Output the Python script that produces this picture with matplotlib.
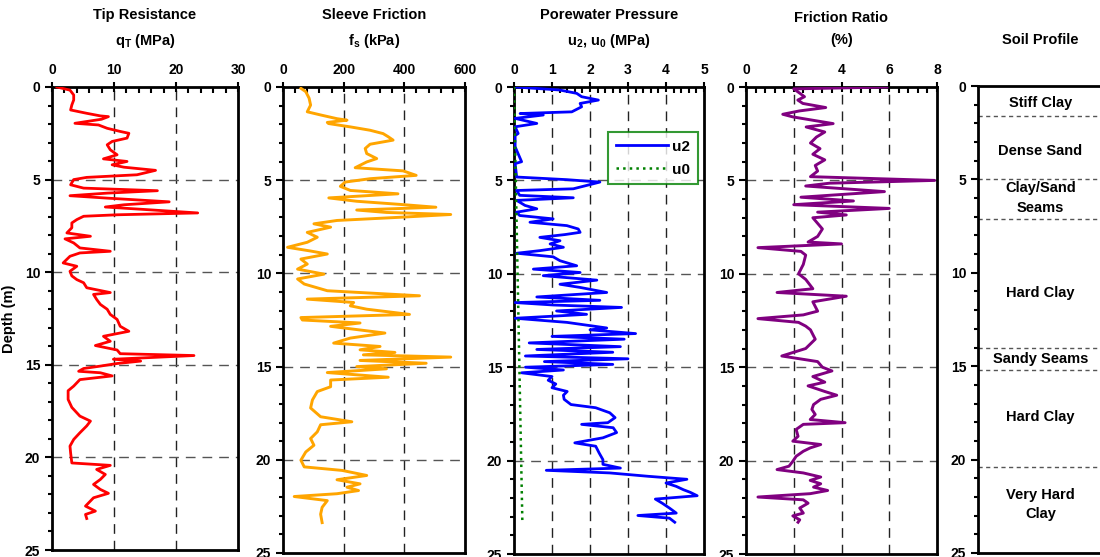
import numpy as np
import matplotlib
matplotlib.use("Agg")
import matplotlib.pyplot as plt
from matplotlib.ticker import MultipleLocator

plt.rcParams['font.family'] = ['Liberation Sans', 'DejaVu Sans']
plt.rcParams['font.weight'] = 'bold'
plt.rcParams['axes.labelweight'] = 'bold'
plt.rcParams['mathtext.fontset'] = 'custom'
plt.rcParams['mathtext.rm'] = 'Liberation Sans:bold'
plt.rcParams['mathtext.it'] = 'Liberation Sans:bold'
plt.rcParams['mathtext.bf'] = 'Liberation Sans:bold'

# (depth m, value) pairs
qt_profile = [(0.0, 0.8), (0.17, 2.9), (0.43, 3.5), (0.7, 3.5), (0.97, 3.2), (1.24, 3.0), (1.42, 5.6),
              (1.56, 7.8), (1.6, 9.1), (1.74, 8.0), (1.96, 3.7), (2.05, 7.5), (2.23, 8.9), (2.4, 11.0),
              (2.5, 12.4), (2.76, 12.1), (2.94, 9.7), (3.12, 8.9), (3.39, 9.4), (3.66, 10.5), (3.88, 8.3),
              (4.02, 12.1), (4.2, 9.7), (4.33, 11.6), (4.5, 16.7), (4.74, 13.7), (4.88, 5.6), (5.0, 3.5),
              (5.28, 3.0), (5.46, 5.1), (5.6, 17.0), (5.73, 8.9), (5.87, 2.9), (6.0, 8.9), (6.2, 18.9),
              (6.36, 11.6), (6.48, 8.6), (6.6, 14.3), (6.8, 23.5), (6.9, 10.5), (6.98, 5.1), (7.16, 4.0),
              (7.34, 3.2), (7.6, 3.2), (7.88, 2.4), (8.06, 6.2), (8.2, 2.1), (8.42, 3.5), (8.69, 4.5),
              (8.87, 9.4), (8.96, 4.5), (9.14, 2.9), (9.5, 1.8), (9.68, 4.0), (9.95, 2.9), (10.2, 3.2),
              (10.4, 4.0), (10.57, 5.1), (10.84, 5.6), (11.1, 9.4), (11.2, 6.7), (11.47, 7.2), (11.74, 7.8),
              (12.0, 8.9), (12.28, 9.4), (12.55, 10.5), (12.92, 11.0), (13.19, 12.4), (13.46, 8.3),
              (13.73, 9.4), (13.96, 7.0), (14.2, 10.5), (14.4, 11.0), (14.5, 22.9), (14.7, 9.9), (14.8, 14.3),
              (14.93, 10.5), (15.07, 7.8), (15.2, 5.1), (15.35, 4.3), (15.43, 7.8), (15.6, 9.7), (15.8, 4.5),
              (16.15, 3.5), (16.4, 2.6), (16.87, 2.6), (17.3, 3.2), (17.77, 4.5), (18.04, 6.2), (18.3, 5.6),
              (18.67, 4.5), (19.03, 3.5), (19.39, 2.9), (19.75, 3.0), (20.3, 3.2), (20.43, 9.4), (20.65, 7.2),
              (20.92, 8.6), (21.19, 7.8), (21.46, 6.7), (21.73, 7.8), (21.94, 9.1), (22.18, 6.7), (22.63, 5.4),
              (22.9, 7.0), (23.08, 5.4), (23.3, 5.6)]

fs_profile = [(0.07, 59), (0.25, 75), (0.6, 86), (0.97, 91), (1.33, 80), (1.5, 124), (1.7, 178), (1.78, 211),
              (1.9, 146), (1.96, 150), (2.14, 222), (2.32, 287), (2.5, 330), (2.67, 347), (2.85, 363), (3.07, 287),
              (3.3, 271), (3.57, 276), (3.84, 309), (4.02, 276), (4.33, 238), (4.5, 396), (4.74, 439), (4.92, 287),
              (5.1, 205), (5.33, 189), (5.55, 222), (5.73, 379), (5.95, 151), (6.13, 243), (6.31, 396), (6.45, 504),
              (6.6, 243), (6.73, 341), (6.84, 553), (6.98, 396), (7.16, 178), (7.34, 102), (7.52, 157), (7.8, 80),
              (8.06, 113), (8.33, 80), (8.6, 15), (8.8, 91), (8.96, 146), (9.23, 59), (9.5, 80), (9.77, 48),
              (10.04, 135), (10.3, 48), (10.57, 70), (10.93, 146), (11.2, 450), (11.38, 80), (11.56, 233),
              (11.74, 222), (11.92, 276), (12.2, 417), (12.37, 59), (12.5, 64), (12.66, 254), (12.84, 157),
              (13.2, 336), (13.47, 222), (13.74, 167), (13.92, 320), (14.1, 254), (14.24, 369), (14.37, 265),
              (14.49, 553), (14.67, 254), (14.82, 472), (15.0, 243), (15.12, 341), (15.32, 146), (15.57, 347),
              (15.72, 157), (16.08, 157), (16.34, 113), (16.79, 97), (17.22, 91), (17.69, 124), (17.96, 227),
              (18.12, 124), (18.5, 113), (18.86, 91), (19.22, 102), (19.58, 75), (20.02, 59), (20.38, 70),
              (20.57, 195), (20.84, 276), (21.07, 178), (21.29, 254), (21.47, 211), (21.65, 249), (21.82, 178),
              (21.97, 37), (22.19, 146), (22.55, 129), (22.92, 124), (23.37, 129)]

u2_profile = [(0.0, 0.03), (0.16, 1.2), (0.34, 1.65), (0.52, 1.78), (0.7, 2.22), (0.88, 1.74), (1.06, 1.78),
              (1.33, 1.52), (1.42, 0.16), (1.5, 0.77), (1.68, 0.03), (1.95, 0.6), (2.13, 0.03), (2.49, 0.11),
              (2.6, 0.03), (3.2, 0.03), (4.0, 0.2), (4.1, 0.03), (4.82, 0.07), (4.96, 1.39), (5.09, 2.26),
              (5.27, 1.91), (5.45, 1.56), (5.54, 0.07), (5.8, 0.15), (5.93, 1.56), (6.07, 0.07), (6.34, 0.29),
              (6.52, 0.6), (6.7, 0.07), (6.88, 0.15), (7.06, 1.03), (7.24, 0.42), (7.42, 1.39), (7.6, 1.69),
              (7.78, 1.74), (7.9, 1.34), (8.05, 0.68), (8.23, 1.21), (8.4, 0.95), (8.58, 1.3), (8.76, 0.68),
              (8.9, 0.07), (9.09, 1.03), (9.3, 1.21), (9.57, 1.65), (9.75, 0.51), (9.93, 1.74), (10.1, 0.77),
              (10.34, 2.18), (10.56, 1.21), (10.73, 1.74), (11.0, 2.44), (11.24, 0.6), (11.42, 2.26),
              (11.54, 0.03), (11.67, 1.03), (11.8, 2.83), (11.99, 1.12), (12.17, 1.91), (12.38, 0.03),
              (12.6, 1.39), (12.9, 2.44), (13.0, 2.0), (13.2, 3.2), (13.35, 1.0), (13.5, 2.9), (13.7, 0.4),
              (13.9, 2.8), (14.05, 0.6), (14.2, 2.6), (14.4, 0.3), (14.55, 3.0), (14.7, 0.8), (14.85, 2.6),
              (15.0, 0.3), (15.15, 1.3), (15.3, 0.2), (15.5, 1.0), (15.7, 0.9), (15.9, 1.1), (16.1, 1.0),
              (16.3, 1.4), (16.5, 1.3), (16.72, 1.32), (17.0, 1.5), (17.17, 2.15), (17.44, 2.52), (17.7, 2.66),
              (17.97, 2.47), (18.06, 1.78), (18.24, 2.61), (18.5, 2.7), (18.78, 2.34), (19.05, 1.6),
              (19.23, 2.15), (19.59, 2.24), (19.95, 2.34), (20.2, 2.34), (20.4, 2.8), (20.52, 0.85),
              (20.66, 2.52), (20.84, 3.53), (21.0, 4.55), (21.2, 4.0), (21.38, 4.27), (21.56, 4.46),
              (21.7, 4.64), (21.88, 4.82), (22.06, 3.72), (22.28, 3.9), (22.54, 4.09), (22.81, 4.27),
              (22.94, 3.26), (23.08, 4.09), (23.3, 4.23)]

u0_depth = [0.0, 23.3]
u0_values = [0.0, 0.22]

rf_profile = [(0.0, 5.9), (0.1, 2.0), (0.33, 2.25), (0.52, 2.45), (0.7, 2.17), (0.88, 2.38), (1.1, 3.34),
              (1.28, 2.24), (1.46, 1.54), (1.6, 1.96), (1.78, 2.8), (1.96, 3.65), (2.14, 2.52), (2.41, 3.3),
              (2.68, 2.95), (3.0, 2.7), (3.3, 3.1), (3.6, 2.8), (3.9, 3.3), (4.2, 2.9), (4.5, 3.0), (4.8, 2.7),
              (5.0, 7.9), (5.15, 3.5), (5.3, 2.5), (5.6, 5.8), (5.9, 2.3), (6.1, 4.5), (6.3, 2.0), (6.5, 6.0),
              (6.7, 3.0), (6.85, 4.2), (7.0, 2.8), (7.3, 3.0), (7.6, 3.2), (8.0, 3.0), (8.3, 2.6), (8.4, 4.0),
              (8.6, 0.5), (8.8, 2.3), (9.0, 2.5), (9.5, 2.4), (10.0, 2.2), (10.3, 2.5), (10.8, 2.8), (11.0, 1.3),
              (11.2, 4.2), (11.5, 2.8), (12.0, 3.0), (12.2, 2.4), (12.4, 0.5), (12.6, 2.2), (12.8, 2.5),
              (13.0, 2.7), (13.5, 2.9), (14.0, 2.5), (14.4, 1.5), (14.7, 3.0), (15.0, 3.2), (15.2, 3.6),
              (15.5, 2.8), (15.8, 3.3), (16.0, 2.6), (16.3, 3.3), (16.5, 3.8), (16.72, 3.13), (17.0, 2.83),
              (17.26, 2.76), (17.53, 2.9), (17.8, 2.69), (17.97, 4.15), (18.06, 2.4), (18.33, 2.1), (18.7, 2.18),
              (18.96, 1.96), (19.14, 3.13), (19.32, 2.69), (19.5, 2.4), (19.77, 2.1), (20.04, 1.96), (20.3, 1.8),
              (20.48, 1.3), (20.66, 2.4), (20.88, 3.13), (21.06, 2.69), (21.24, 3.13), (21.42, 2.83), (21.6, 3.42),
              (21.77, 2.69), (21.95, 0.5), (22.1, 2.4), (22.28, 2.6), (22.54, 2.25), (22.81, 2.4), (22.96, 1.96),
              (23.17, 2.25), (23.3, 2.18)]

layer_bounds = [1.6, 5.0, 7.1, 14.0, 15.2, 20.4]
layer_names = ["Stiff Clay", "Dense Sand", "Clay/Sand\nSeams", "Hard Clay", "Sandy Seams", "Hard Clay", "Very Hard\nClay"]
layer_label_depths = [0.9, 3.5, 6.0, 11.1, 14.6, 17.7, 22.4]

titles = ["Tip Resistance\nq$_\\mathrm{T}$ (MPa)", "Sleeve Friction\nf$_\\mathrm{s}$ (kPa)",
          "Porewater Pressure\nu$_\\mathrm{2}$, u$_\\mathrm{0}$ (MPa)", "Friction Ratio\n(%)"]
xlims = [(0, 30), (0, 600), (0, 5), (0, 8)]
xmajor = [10, 200, 1, 2]
xminor = [2, 40, 0.2, 0.4]

W, H = 1100, 557
fig = plt.figure(figsize=(W / 100, H / 100), dpi=100)

# axes boxes in pixels: left, right, top, bottom
boxes = [(52, 238, 87, 550), (283, 465, 87, 553), (514, 704, 87, 554), (746, 937, 87, 554), (978, 1103, 86, 553)]
axes = []
for l, r, t, b in boxes:
    axes.append(fig.add_axes([l / W, (H - b) / H, (r - l) / W, (b - t) / H]))


def style(ax):
    ax.set_ylim(25, 0)
    ax.yaxis.set_major_locator(MultipleLocator(5))
    ax.yaxis.set_minor_locator(MultipleLocator(1))
    for s in ax.spines.values():
        s.set_linewidth(2)
    ax.tick_params(axis='y', which='major', direction='out', length=5, width=1.5, labelsize=10)
    ax.tick_params(axis='y', which='minor', direction='out', length=3, width=1.5)


for i, ax in enumerate(axes[:4]):
    style(ax)
    ax.set_xlim(*xlims[i])
    ax.xaxis.tick_top()
    ax.xaxis.set_major_locator(MultipleLocator(xmajor[i]))
    ax.xaxis.set_minor_locator(MultipleLocator(xminor[i]))
    ax.tick_params(axis='x', which='major', direction='inout', length=7, width=1.5, labelsize=10, pad=4)
    ax.tick_params(axis='x', which='minor', direction='in', length=4, width=1.5)
    for v in np.arange(xmajor[i], xlims[i][1], xmajor[i]):
        ax.axvline(v, color='#222222', lw=1, dashes=(7, 5), zorder=1)
    for d in [5, 10, 15, 20]:
        ax.axhline(d, color='#555555', lw=1, dashes=(7, 5), zorder=1)
    pos = ax.get_position()
    fig.text(pos.x0 + pos.width / 2, 1 - 29 / H, titles[i], ha='center', va='center',
             fontsize=10.5, linespacing=1.8)

axes[0].set_ylabel("Depth (m)", fontsize=10.5, fontweight='bold', labelpad=6)

d, v = zip(*qt_profile)
axes[0].plot(v, d, color='#ff0000', lw=2, zorder=3)
d, v = zip(*fs_profile)
axes[1].plot(v, d, color='#ffa500', lw=2.1, zorder=3)
d, v = zip(*u2_profile)
axes[2].plot(v, d, color='#0000ff', lw=2, zorder=3, label='u2')
axes[2].plot(u0_values, u0_depth, color='#008000', lw=1.8, ls=':', zorder=3, label='u0')
leg = axes[2].legend(loc='upper left', bbox_to_anchor=(0.455, 0.92), frameon=True, fancybox=False,
                     prop={'weight': 'bold', 'size': 11}, handlelength=3.4, borderpad=0.5,
                     labelspacing=0.6, handletextpad=0.3)
leg.get_frame().set_edgecolor('#008000')
leg.get_frame().set_linewidth(1.5)
d, v = zip(*rf_profile)
axes[3].plot(v, d, color='#800080', lw=2.1, zorder=3)

# soil profile
sp = axes[4]
style(sp)
sp.set_xlim(0, 1)
sp.set_xticks([])
sp.spines['right'].set_visible(False)
for bnd in layer_bounds:
    sp.axhline(bnd, color='#555555', lw=1, dashes=(3, 2.5))
for name, yd in zip(layer_names, layer_label_depths):
    sp.text(0.5, yd, name, ha='center', va='center', fontsize=10.5, linespacing=1.5)
fig.text((978 + 1103) / 2 / W, 1 - 40 / H, "Soil Profile", ha='center', va='center', fontsize=10.5)

fig.savefig("out.png", dpi=100)
